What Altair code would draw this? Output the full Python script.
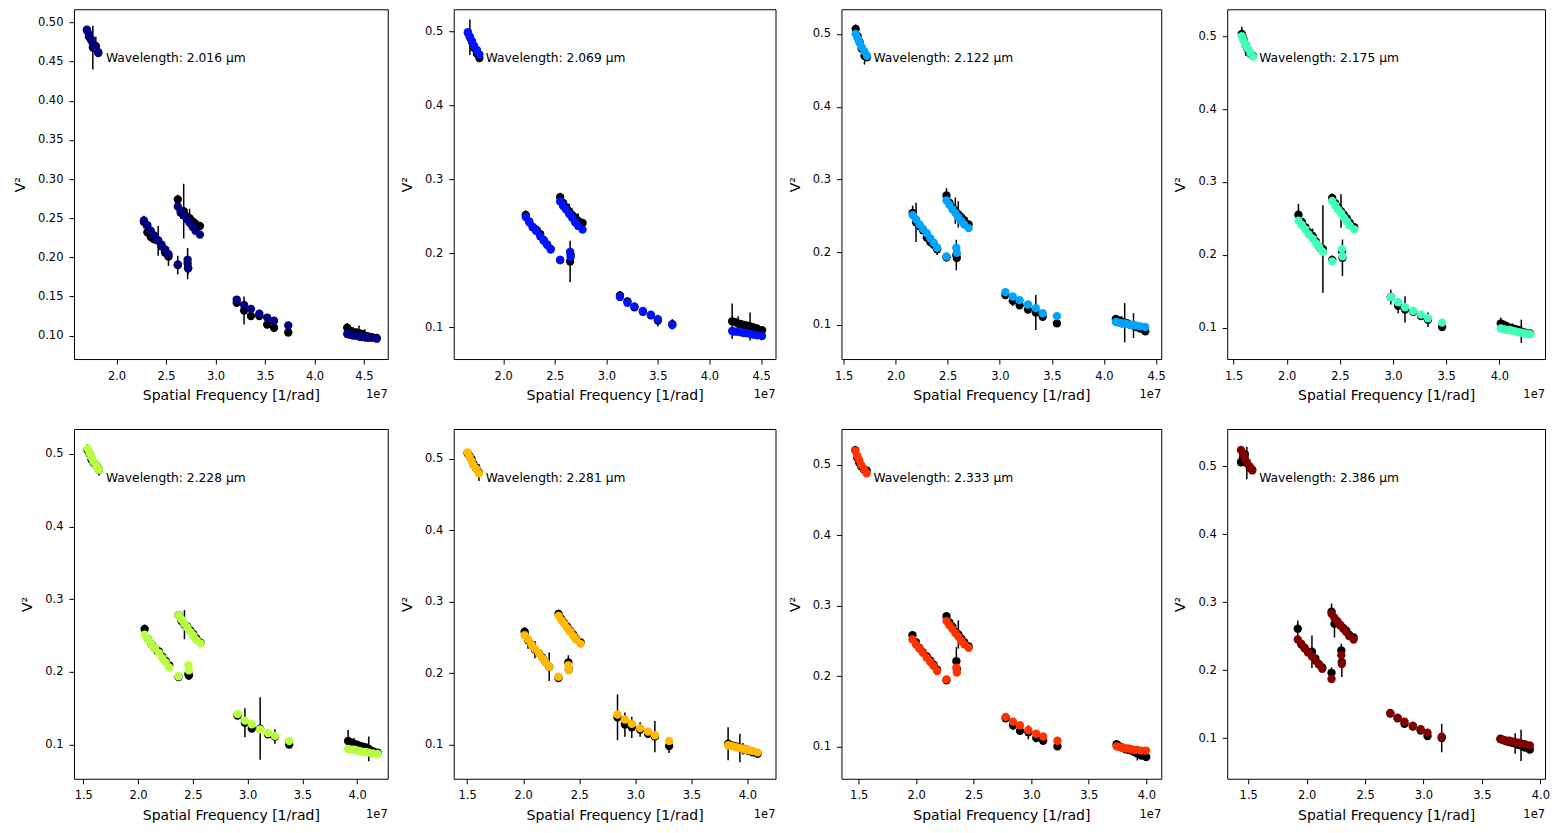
import altair as alt
import pandas as pd

# ---------------- data ----------------
wavelengths_um = [2.016, 2.069, 2.122, 2.175, 2.228, 2.281, 2.333, 2.386]
colors = ["#000080", "#0012ff", "#00a4ff", "#41ffb6", "#b6ff41", "#ffb900", "#ff3200", "#800000"]

# projected baselines in metres (same for every wavelength channel)
baseline_m = [34.3, 34.7, 35.1, 35.5, 36.1, 36.6,
              45.9, 46.6, 47.3, 48.0, 48.8, 49.5, 50.2, 50.9,
              52.8, 53.4, 54.0, 54.6, 55.2, 55.8, 56.4, 57.3,
              52.8, 54.8, 54.9,
              64.8, 66.3, 67.7, 69.4, 71.0, 72.4, 75.3,
              87.3, 87.9, 88.5, 89.1, 89.7, 90.3, 90.9, 91.5, 92.3, 93.3]

v2_data_1 = [0.490, 0.482, 0.478, 0.468, 0.470, 0.462,
             0.245, 0.232, 0.226, 0.223, 0.221, 0.214, 0.206, 0.201,
             0.274, 0.257, 0.259, 0.252, 0.250, 0.246, 0.243, 0.240,
             0.190, 0.192, 0.186,
             0.142, 0.132, 0.125, 0.125, 0.114, 0.110, 0.104,
             0.110, 0.106, 0.104, 0.104, 0.103, 0.102, 0.100, 0.099, 0.098, 0.097]
v2_model_1 = [0.491, 0.485, 0.479, 0.473, 0.467, 0.461,
              0.247, 0.241, 0.234, 0.228, 0.222, 0.216, 0.210, 0.204,
              0.265, 0.259, 0.254, 0.249, 0.244, 0.239, 0.234, 0.229,
              0.191, 0.197, 0.186,
              0.146, 0.139, 0.134, 0.128, 0.123, 0.119, 0.113,
              0.102, 0.101, 0.100, 0.100, 0.099, 0.098, 0.098, 0.097, 0.097, 0.096]
v2_err_1 = [0.005, 0.006, 0.006, 0.028, 0.012, 0.006,
            0.008, 0.005, 0.006, 0.005, 0.019, 0.006, 0.005, 0.012,
            0.006, 0.008, 0.035, 0.006, 0.012, 0.006, 0.005, 0.005,
            0.012, 0.020, 0.008,
            0.005, 0.018, 0.005, 0.005, 0.005, 0.005, 0.005,
            0.006, 0.005, 0.007, 0.005, 0.010, 0.005, 0.008, 0.005, 0.005, 0.005]

v2_data_2 = [0.498, 0.492, 0.486, 0.478, 0.470, 0.464,
             0.252, 0.243, 0.235, 0.232, 0.226, 0.218, 0.212, 0.206,
             0.276, 0.268, 0.262, 0.257, 0.252, 0.248, 0.244, 0.241,
             0.191, 0.189, 0.198,
             0.143, 0.135, 0.127, 0.121, 0.116, 0.109, 0.104,
             0.108, 0.107, 0.105, 0.104, 0.103, 0.102, 0.101, 0.100, 0.098, 0.096]
v2_model_2 = [0.499, 0.493, 0.487, 0.481, 0.475, 0.469,
              0.249, 0.242, 0.236, 0.230, 0.223, 0.217, 0.211, 0.205,
              0.270, 0.264, 0.259, 0.253, 0.248, 0.242, 0.237, 0.232,
              0.191, 0.202, 0.195,
              0.141, 0.133, 0.128, 0.122, 0.117, 0.111, 0.103,
              0.095, 0.094, 0.094, 0.093, 0.092, 0.092, 0.091, 0.090, 0.089, 0.088]
v2_err_2 = [0.005, 0.024, 0.006, 0.005, 0.005, 0.005,
            0.006, 0.005, 0.007, 0.006, 0.008, 0.005, 0.005, 0.005,
            0.006, 0.005, 0.005, 0.010, 0.005, 0.005, 0.010, 0.005,
            0.005, 0.028, 0.006,
            0.006, 0.005, 0.005, 0.005, 0.005, 0.008, 0.007,
            0.024, 0.005, 0.010, 0.005, 0.005, 0.005, 0.019, 0.005, 0.006, 0.005]

v2_data_3 = [0.507, 0.497, 0.489, 0.480, 0.470, 0.468,
             0.254, 0.241, 0.236, 0.230, 0.220, 0.214, 0.210, 0.204,
             0.278, 0.268, 0.262, 0.257, 0.252, 0.248, 0.244, 0.238,
             0.193, 0.196, 0.192,
             0.141, 0.133, 0.127, 0.121, 0.117, 0.111, 0.102,
             0.108, 0.106, 0.104, 0.103, 0.102, 0.100, 0.099, 0.097, 0.095, 0.091]
v2_model_3 = [0.500, 0.494, 0.488, 0.482, 0.476, 0.470,
              0.251, 0.245, 0.238, 0.232, 0.226, 0.219, 0.213, 0.206,
              0.271, 0.265, 0.259, 0.254, 0.248, 0.243, 0.238, 0.233,
              0.194, 0.206, 0.199,
              0.145, 0.139, 0.134, 0.128, 0.123, 0.116, 0.112,
              0.104, 0.103, 0.102, 0.102, 0.101, 0.100, 0.100, 0.099, 0.098, 0.097]
v2_err_3 = [0.006, 0.005, 0.005, 0.005, 0.012, 0.005,
            0.010, 0.027, 0.006, 0.005, 0.005, 0.006, 0.005, 0.008,
            0.010, 0.006, 0.005, 0.018, 0.018, 0.005, 0.005, 0.005,
            0.006, 0.021, 0.005,
            0.005, 0.007, 0.005, 0.005, 0.024, 0.005, 0.004,
            0.005, 0.005, 0.008, 0.027, 0.005, 0.005, 0.017, 0.005, 0.005, 0.005]

v2_data_4 = [0.503, 0.495, 0.488, 0.482, 0.476, 0.473,
             0.255, 0.245, 0.238, 0.231, 0.226, 0.218, 0.210, 0.208,
             0.278, 0.271, 0.265, 0.260, 0.255, 0.250, 0.244, 0.238,
             0.193, 0.205, 0.196,
             0.142, 0.130, 0.125, 0.122, 0.116, 0.111, 0.101,
             0.106, 0.104, 0.102, 0.100, 0.099, 0.098, 0.097, 0.095, 0.093, 0.092]
v2_model_4 = [0.500, 0.494, 0.488, 0.483, 0.477, 0.472,
              0.247, 0.241, 0.235, 0.228, 0.222, 0.216, 0.210, 0.204,
              0.274, 0.268, 0.262, 0.257, 0.251, 0.246, 0.240, 0.235,
              0.191, 0.208, 0.198,
              0.142, 0.135, 0.128, 0.123, 0.118, 0.113, 0.107,
              0.099, 0.098, 0.097, 0.097, 0.096, 0.095, 0.094, 0.093, 0.092, 0.091]
v2_err_4 = [0.010, 0.005, 0.015, 0.005, 0.005, 0.005,
            0.015, 0.005, 0.005, 0.005, 0.010, 0.005, 0.005, 0.060,
            0.006, 0.005, 0.005, 0.023, 0.005, 0.005, 0.005, 0.005,
            0.006, 0.005, 0.025,
            0.010, 0.010, 0.018, 0.005, 0.005, 0.010, 0.005,
            0.008, 0.005, 0.005, 0.005, 0.007, 0.005, 0.005, 0.016, 0.005, 0.005]

v2_data_5 = [0.505, 0.500, 0.492, 0.488, 0.484, 0.478,
             0.259, 0.245, 0.238, 0.232, 0.228, 0.221, 0.215, 0.209,
             0.278, 0.270, 0.265, 0.262, 0.257, 0.252, 0.246, 0.240,
             0.193, 0.197, 0.195,
             0.140, 0.130, 0.122, 0.122, 0.114, 0.111, 0.100,
             0.105, 0.103, 0.101, 0.100, 0.098, 0.097, 0.096, 0.094, 0.091, 0.089]
v2_model_5 = [0.507, 0.501, 0.495, 0.489, 0.484, 0.478,
              0.251, 0.245, 0.238, 0.232, 0.226, 0.219, 0.213, 0.206,
              0.278, 0.272, 0.266, 0.261, 0.255, 0.250, 0.244, 0.239,
              0.194, 0.209, 0.202,
              0.142, 0.133, 0.128, 0.121, 0.116, 0.112, 0.105,
              0.094, 0.093, 0.093, 0.092, 0.091, 0.090, 0.090, 0.089, 0.088, 0.087]
v2_err_5 = [0.008, 0.006, 0.008, 0.006, 0.005, 0.008,
            0.006, 0.005, 0.005, 0.008, 0.005, 0.008, 0.005, 0.005,
            0.005, 0.005, 0.020, 0.005, 0.005, 0.005, 0.005, 0.005,
            0.005, 0.005, 0.006,
            0.005, 0.020, 0.005, 0.043, 0.005, 0.010, 0.004,
            0.015, 0.005, 0.008, 0.005, 0.005, 0.005, 0.005, 0.017, 0.005, 0.005]

v2_data_6 = [0.508, 0.504, 0.500, 0.493, 0.487, 0.481,
             0.258, 0.246, 0.240, 0.233, 0.228, 0.222, 0.215, 0.209,
             0.283, 0.276, 0.270, 0.265, 0.259, 0.254, 0.248, 0.243,
             0.193, 0.215, 0.205,
             0.138, 0.128, 0.124, 0.121, 0.115, 0.111, 0.098,
             0.101, 0.099, 0.098, 0.097, 0.095, 0.094, 0.093, 0.091, 0.089, 0.087]
v2_model_6 = [0.509, 0.503, 0.497, 0.491, 0.486, 0.480,
              0.253, 0.247, 0.240, 0.234, 0.228, 0.221, 0.215, 0.209,
              0.280, 0.274, 0.269, 0.263, 0.258, 0.252, 0.247, 0.241,
              0.195, 0.211, 0.204,
              0.142, 0.135, 0.129, 0.123, 0.118, 0.113, 0.105,
              0.099, 0.098, 0.097, 0.096, 0.095, 0.094, 0.093, 0.092, 0.091, 0.089]
v2_err_6 = [0.005, 0.006, 0.005, 0.010, 0.005, 0.012,
            0.006, 0.012, 0.005, 0.012, 0.005, 0.005, 0.005, 0.020,
            0.006, 0.005, 0.005, 0.005, 0.005, 0.005, 0.005, 0.005,
            0.005, 0.010, 0.005,
            0.032, 0.017, 0.015, 0.010, 0.005, 0.022, 0.010,
            0.023, 0.005, 0.005, 0.005, 0.020, 0.008, 0.005, 0.005, 0.005, 0.005]

v2_data_7 = [0.521, 0.510, 0.503, 0.498, 0.493, 0.492,
             0.258, 0.248, 0.240, 0.234, 0.228, 0.222, 0.216, 0.209,
             0.285, 0.276, 0.270, 0.263, 0.259, 0.253, 0.248, 0.242,
             0.194, 0.221, 0.210,
             0.140, 0.130, 0.122, 0.120, 0.112, 0.108, 0.100,
             0.103, 0.100, 0.098, 0.096, 0.095, 0.094, 0.092, 0.090, 0.087, 0.085]
v2_model_7 = [0.520, 0.513, 0.507, 0.500, 0.494, 0.488,
              0.252, 0.245, 0.239, 0.233, 0.226, 0.220, 0.214, 0.207,
              0.278, 0.272, 0.267, 0.261, 0.256, 0.250, 0.245, 0.240,
              0.195, 0.212, 0.205,
              0.142, 0.135, 0.130, 0.123, 0.118, 0.114, 0.108,
              0.100, 0.099, 0.098, 0.097, 0.097, 0.096, 0.095, 0.095, 0.094, 0.094]
v2_err_7 = [0.006, 0.005, 0.006, 0.008, 0.005, 0.005,
            0.005, 0.005, 0.005, 0.005, 0.006, 0.005, 0.005, 0.005,
            0.005, 0.005, 0.005, 0.005, 0.020, 0.005, 0.005, 0.005,
            0.005, 0.020, 0.005,
            0.005, 0.007, 0.005, 0.010, 0.005, 0.005, 0.004,
            0.005, 0.005, 0.005, 0.005, 0.005, 0.005, 0.005, 0.010, 0.005, 0.005]

v2_data_8 = [0.506, 0.512, 0.518, 0.505, 0.498, 0.495,
             0.261, 0.238, 0.232, 0.226, 0.227, 0.217, 0.209, 0.204,
             0.286, 0.268, 0.270, 0.266, 0.262, 0.258, 0.252, 0.248,
             0.196, 0.229, 0.212,
             0.136, 0.129, 0.121, 0.117, 0.111, 0.103, 0.100,
             0.099, 0.097, 0.095, 0.094, 0.093, 0.092, 0.090, 0.089, 0.086, 0.083]
v2_model_8 = [0.524, 0.518, 0.512, 0.506, 0.500, 0.494,
              0.245, 0.239, 0.233, 0.227, 0.220, 0.214, 0.208, 0.202,
              0.283, 0.277, 0.272, 0.266, 0.261, 0.256, 0.250, 0.245,
              0.187, 0.222, 0.209,
              0.137, 0.130, 0.124, 0.118, 0.113, 0.108, 0.102,
              0.098, 0.097, 0.096, 0.096, 0.095, 0.094, 0.093, 0.092, 0.091, 0.089]
v2_err_8 = [0.006, 0.006, 0.006, 0.024, 0.005, 0.005,
            0.012, 0.005, 0.005, 0.005, 0.024, 0.005, 0.005, 0.005,
            0.012, 0.020, 0.005, 0.005, 0.005, 0.005, 0.005, 0.005,
            0.008, 0.010, 0.022,
            0.005, 0.005, 0.005, 0.005, 0.005, 0.005, 0.021,
            0.005, 0.005, 0.005, 0.005, 0.005, 0.015, 0.005, 0.023, 0.005, 0.005]

v2_data = [v2_data_1, v2_data_2, v2_data_3, v2_data_4, v2_data_5, v2_data_6, v2_data_7, v2_data_8]
v2_model = [v2_model_1, v2_model_2, v2_model_3, v2_model_4, v2_model_5, v2_model_6, v2_model_7, v2_model_8]
v2_err = [v2_err_1, v2_err_2, v2_err_3, v2_err_4, v2_err_5, v2_err_6, v2_err_7, v2_err_8]

# axis ranges (x in units of 1e7 rad^-1)
x_domains = [(1.57, 4.74), (1.52, 4.64), (1.48, 4.55), (1.44, 4.43),
             (1.415, 4.28), (1.38, 4.25), (1.35, 4.13), (1.32, 4.04)]
y_domains = [(0.070, 0.517), (0.057, 0.530), (0.053, 0.534), (0.057, 0.537),
             (0.053, 0.534), (0.052, 0.542), (0.054, 0.551), (0.040, 0.555)]
x_ticks = [1.5, 2.0, 2.5, 3.0, 3.5, 4.0, 4.5]
y_ticks_fine = [0.10, 0.15, 0.20, 0.25, 0.30, 0.35, 0.40, 0.45, 0.50]
y_ticks = [0.1, 0.2, 0.3, 0.4, 0.5]

panel_widths = [314, 322, 320, 318]
panel_height = 350
FONT = "DejaVu Sans"


def panel(i):
    lam = wavelengths_um[i]
    df = pd.DataFrame({
        "B": baseline_m,
        "v2": v2_data[i],
        "err": v2_err[i],
        "model": v2_model[i],
    })
    df["sf"] = df["B"] / (lam * 1e-6) / 1e7
    df["lo"] = df["v2"] - df["err"]
    df["hi"] = df["v2"] + df["err"]

    xd = x_domains[i]
    yd = y_domains[i]
    xt = [t for t in x_ticks if xd[0] <= t <= xd[1]]
    fine = (i == 0)
    yt = y_ticks_fine if fine else y_ticks
    yfmt = ".2f" if fine else ".1f"

    xs = alt.Scale(domain=list(xd), nice=False, zero=False)
    ys = alt.Scale(domain=list(yd), nice=False, zero=False)
    xaxis = alt.Axis(title="Spatial Frequency [1/rad]", values=xt, format=".1f",
                     grid=False, domain=False, tickSize=5, labelPadding=6,
                     titlePadding=7, labelFontSize=11.5, titleFontSize=14,
                     labelColor="black", titleColor="black", tickColor="black",
                     titleFontWeight="normal", labelFont=FONT, titleFont=FONT)
    yaxis = alt.Axis(title="V²", values=yt, format=yfmt,
                     grid=False, domain=False, tickSize=5, labelPadding=6,
                     titlePadding=10, labelFontSize=11.5, titleFontSize=14,
                     labelColor="black", titleColor="black", tickColor="black",
                     titleFontWeight="normal", labelFont=FONT, titleFont=FONT)

    base = alt.Chart(df)
    bars = base.mark_rule(color="black", strokeWidth=1.5).encode(
        x=alt.X("sf:Q", scale=xs, axis=xaxis),
        y=alt.Y("lo:Q", scale=ys, axis=yaxis),
        y2="hi:Q",
    )
    obs = base.mark_circle(color="black", opacity=1, size=70).encode(
        x=alt.X("sf:Q", scale=xs),
        y=alt.Y("v2:Q", scale=ys),
    )
    mod = base.mark_circle(color=colors[i], opacity=1, size=70).encode(
        x=alt.X("sf:Q", scale=xs),
        y=alt.Y("model:Q", scale=ys),
    )
    label = alt.Chart(pd.DataFrame({"t": [f"Wavelength: {lam:.3f} μm"]})).mark_text(
        align="left", baseline="middle", fontSize=12.3, font=FONT, color="black"
    ).encode(x=alt.value(32), y=alt.value(49), text="t:N")
    w = panel_widths[i % 4]
    offs = alt.Chart(pd.DataFrame({"t": ["1e7"]})).mark_text(
        align="right", baseline="middle", fontSize=11.5, font=FONT, color="black"
    ).encode(x=alt.value(w), y=alt.value(panel_height + 36), text="t:N")

    return alt.layer(bars, obs, mod, label, offs).properties(width=w, height=panel_height)


chart = alt.concat(*[panel(i) for i in range(8)], columns=4).properties(
    spacing={"row": 70, "column": 66},
    bounds="flush",
    padding={"left": 4, "top": 0, "right": 5, "bottom": 5},
).configure(
    background="white",
    view=alt.ViewConfig(stroke="black", strokeWidth=1),
)

chart.save("out.html", embed_options={"renderer": "svg", "actions": False})
